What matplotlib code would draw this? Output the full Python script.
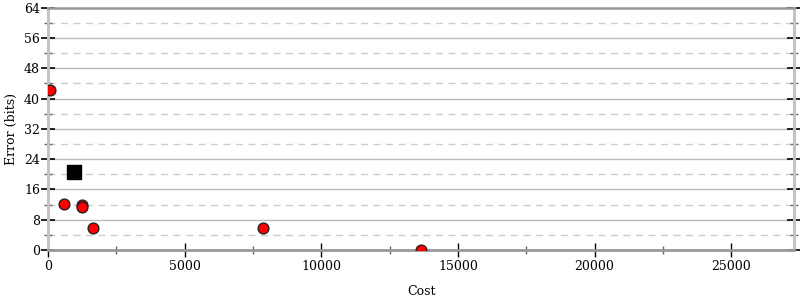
import matplotlib
matplotlib.use("Agg")
import matplotlib.pyplot as plt
from matplotlib.ticker import MultipleLocator

plt.rcParams['font.family'] = ['DejaVu Serif']

cost_pts = [60, 584, 1240, 1245, 1640, 7880, 13650]
err_pts = [42.2, 12.2, 11.9, 11.4, 5.8, 5.8, 0.0]
cost_sq = [949]
err_sq = [20.6]

x_max = 27300
y_max = 64

fig = plt.figure(figsize=(8, 3), dpi=100)
ax = fig.add_axes([0.06, 0.167, 0.9325, 0.807])

ax.set_xlim(0, x_max)
ax.set_ylim(0, y_max)

ax.yaxis.set_major_locator(MultipleLocator(8))
ax.yaxis.set_minor_locator(MultipleLocator(4))
ax.xaxis.set_major_locator(MultipleLocator(5000))
ax.xaxis.set_minor_locator(MultipleLocator(2500))

ax.grid(axis='y', which='major', color='#bbbbbb', linewidth=1.0, linestyle='-')
ax.grid(axis='y', which='minor', color='#cccccc', linewidth=1.0, linestyle=(0, (5, 4)))
ax.set_axisbelow(True)

for s in ['left', 'right']:
    ax.spines[s].set_color('#c4c4c4')
    ax.spines[s].set_linewidth(2.2)
ax.spines['bottom'].set_color('#999999')
ax.spines['bottom'].set_linewidth(2)
ax.spines['top'].set_color('#999999')
ax.spines['top'].set_linewidth(1.8)

ax.tick_params(axis='y', which='major', direction='inout', length=10, width=1.2, color='black',
               left=True, right=True, labelsize=9, pad=0.8)
ax.tick_params(axis='y', which='minor', direction='inout', length=6, width=1, color='#666666',
               left=True, right=True)
ax.tick_params(axis='x', which='major', direction='inout', length=10, width=1, color='black',
               labelsize=9, pad=2)
ax.tick_params(axis='x', which='minor', direction='inout', length=6, width=1, color='#666666')

ax.scatter(cost_pts, err_pts, s=60, c='red', edgecolors='#222222', linewidths=1, zorder=3)
ax.scatter(cost_sq, err_sq, s=90, c='black', marker='s', zorder=3)

ax.set_xlabel('Cost', fontsize=9, labelpad=9)
ax.set_ylabel('Error (bits)', fontsize=9, labelpad=4)

fig.savefig('out.png', dpi=100)
